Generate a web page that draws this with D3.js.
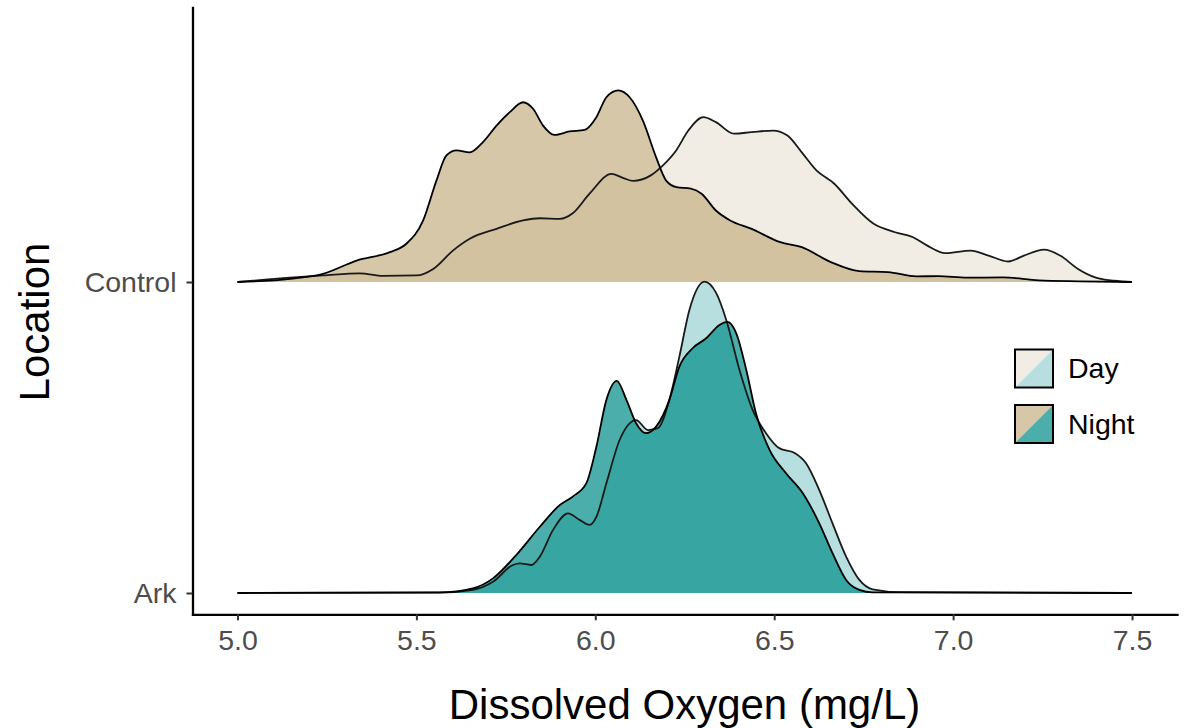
<!DOCTYPE html>
<html>
<head>
<meta charset="utf-8">
<script src="https://cdn.jsdelivr.net/npm/d3@7"></script>
<style>
  body { margin: 0; background: #fff; }
  svg { display: block; }
  text { font-family: "Liberation Sans", Arial, Helvetica, sans-serif; }
</style>
</head>
<body>
<svg id="chart" width="1191" height="728"></svg>
<script>
// Locations on the y axis (bottom to top) and sampling periods
const locations = ["Ark", "Control"];
const periods = ["Day", "Night"];
const xTicks = [5.0, 5.5, 6.0, 6.5, 7.0, 7.5];

// Ridge profiles: [dissolved oxygen (mg/L), scaled density] where a density
// of 1 equals the spacing between two locations
const controlDay = [
  [5.00, 0], [5.147, 0.014], [5.239, 0.021], [5.342, 0.028], [5.407, 0.020],
  [5.500, 0.021], [5.547, 0.042], [5.602, 0.101], [5.649, 0.139], [5.724, 0.171],
  [5.798, 0.198], [5.845, 0.205], [5.901, 0.203], [5.937, 0.221], [5.984, 0.284],
  [6.045, 0.348], [6.077, 0.335], [6.106, 0.325], [6.154, 0.342], [6.189, 0.375],
  [6.226, 0.423], [6.260, 0.487], [6.302, 0.530], [6.337, 0.514], [6.387, 0.477],
  [6.437, 0.482], [6.497, 0.487], [6.537, 0.471], [6.577, 0.417], [6.618, 0.359],
  [6.668, 0.316], [6.718, 0.251], [6.778, 0.187], [6.838, 0.160], [6.888, 0.144],
  [6.928, 0.117], [6.978, 0.093], [7.049, 0.101], [7.099, 0.085], [7.154, 0.066],
  [7.198, 0.085], [7.254, 0.104], [7.299, 0.085], [7.349, 0.042], [7.399, 0.014],
  [7.450, 0.004], [7.500, 0]
];
const controlNight = [
  [5.00, 0], [5.147, 0.010], [5.239, 0.026], [5.333, 0.069], [5.426, 0.096],
  [5.472, 0.123], [5.519, 0.198], [5.556, 0.326], [5.584, 0.407], [5.612, 0.423],
  [5.649, 0.417], [5.686, 0.450], [5.724, 0.503], [5.761, 0.546], [5.798, 0.578],
  [5.826, 0.557], [5.854, 0.503], [5.886, 0.473], [5.928, 0.484], [5.970, 0.489],
  [6.003, 0.530], [6.031, 0.594], [6.064, 0.616], [6.096, 0.594], [6.133, 0.519],
  [6.170, 0.401], [6.198, 0.326], [6.227, 0.305], [6.267, 0.300], [6.297, 0.284],
  [6.337, 0.230], [6.377, 0.198], [6.437, 0.171], [6.517, 0.128], [6.577, 0.112],
  [6.658, 0.064], [6.738, 0.035], [6.818, 0.032], [6.898, 0.018], [6.958, 0.019],
  [7.039, 0.014], [7.139, 0.015], [7.239, 0.005], [7.352, 0.002], [7.500, 0]
];
const arkDay = [
  [5.00, 0], [5.565, 0.001], [5.658, 0.010], [5.714, 0.036], [5.770, 0.090],
  [5.789, 0.095], [5.821, 0.090], [5.845, 0.117], [5.882, 0.203], [5.924, 0.256],
  [5.956, 0.235], [5.984, 0.219], [6.003, 0.245], [6.031, 0.353], [6.068, 0.492],
  [6.114, 0.556], [6.147, 0.524], [6.175, 0.530], [6.207, 0.621], [6.235, 0.760],
  [6.263, 0.910], [6.305, 1.001], [6.338, 0.964], [6.366, 0.878], [6.403, 0.717],
  [6.440, 0.588], [6.477, 0.514], [6.515, 0.465], [6.556, 0.451], [6.589, 0.417],
  [6.626, 0.331], [6.663, 0.224], [6.701, 0.117], [6.738, 0.042], [6.775, 0.012],
  [6.850, 0.003], [7.500, 0]
];
const arkNight = [
  [5.00, 0], [5.565, 0.002], [5.658, 0.015], [5.714, 0.047], [5.779, 0.122],
  [5.845, 0.213], [5.901, 0.283], [5.937, 0.310], [5.975, 0.353], [6.003, 0.470],
  [6.031, 0.621], [6.060, 0.682], [6.087, 0.621], [6.114, 0.546], [6.142, 0.514],
  [6.170, 0.535], [6.207, 0.621], [6.235, 0.728], [6.272, 0.787], [6.310, 0.819],
  [6.347, 0.862], [6.370, 0.872], [6.394, 0.835], [6.422, 0.717], [6.449, 0.578],
  [6.487, 0.460], [6.533, 0.385], [6.580, 0.321], [6.626, 0.224], [6.663, 0.128],
  [6.701, 0.042], [6.738, 0.010], [6.775, 0.002], [7.500, 0]
];

const ridges = [
  { location: "Control", period: "Day", values: controlDay },
  { location: "Control", period: "Night", values: controlNight },
  { location: "Ark", period: "Day", values: arkDay },
  { location: "Ark", period: "Night", values: arkNight }
];

// Fill colours per location and period (drawn semi-transparent)
const palette = {
  Control: { Day: "rgb(235,230,217)", Night: "rgb(196,175,131)" },
  Ark: { Day: "rgb(154,209,211)", Night: "rgb(0,139,136)" }
};
const fillAlpha = 0.7;

const svg = d3.select("#chart");
svg.append("rect").attr("width", 1191).attr("height", 728).attr("fill", "#fff");

// Scales: the x domain is padded so the axis line spans the full panel
const x = d3.scaleLinear().domain([4.8743, 7.6257]).range([192.5, 1177]);
const y = d3.scaleLinear().domain([0.9315, 2.8833]).range([614.3, 7.3]);
const rowIndex = loc => locations.indexOf(loc) + 1;

const areaFor = base => d3.area()
  .curve(d3.curveMonotoneX)
  .x(d => x(d[0]))
  .y0(y(base))
  .y1(d => y(base + d[1]));
const lineFor = base => d3.line()
  .curve(d3.curveMonotoneX)
  .x(d => x(d[0]))
  .y(d => y(base + d[1]));

// Ridge fills first, outlines on top
const gFill = svg.append("g");
const gLine = svg.append("g");
ridges.forEach(r => {
  const base = rowIndex(r.location);
  gFill.append("path")
    .attr("d", areaFor(base)(r.values))
    .attr("fill", palette[r.location][r.period])
    .attr("fill-opacity", fillAlpha)
    .attr("stroke", "none");
  gLine.append("path")
    .attr("d", lineFor(base)(r.values))
    .attr("fill", "none")
    .attr("stroke", r.period === "Day" ? "#1a1a1a" : "#000")
    .attr("stroke-width", 1.8)
    .attr("stroke-linejoin", "round");
});

// Axes
const tickColor = "#4d4d4d";
const xAxis = svg.append("g")
  .attr("transform", "translate(0,614.3)")
  .call(d3.axisBottom(x).tickValues(xTicks).tickFormat(d3.format(".1f"))
    .tickSize(6).tickSizeOuter(0).tickPadding(9));
const yAxis = svg.append("g")
  .attr("transform", "translate(192.5,0)")
  .call(d3.axisLeft(y).tickValues([1, 2]).tickFormat(d => locations[d - 1])
    .tickSize(6).tickSizeOuter(0).tickPadding(10));

[xAxis, yAxis].forEach(g => {
  g.select(".domain").attr("stroke", "#000").attr("stroke-width", 2.3)
    .attr("stroke-linecap", "square");
  g.selectAll(".tick line").attr("stroke", "#333").attr("stroke-width", 2);
  g.selectAll(".tick text").attr("fill", tickColor).attr("font-size", 28.5)
    .style("font-family", "'Liberation Sans', Arial, Helvetica, sans-serif");
});

// Axis titles
svg.append("text")
  .attr("x", 684.5).attr("y", 719)
  .attr("text-anchor", "middle")
  .attr("font-size", 42)
  .attr("fill", "#000")
  .text("Dissolved Oxygen (mg/L)");
svg.append("text")
  .attr("transform", "translate(49,322) rotate(-90)")
  .attr("text-anchor", "middle")
  .attr("font-size", 42)
  .attr("fill", "#000")
  .text("Location");

// Legend: each key is split diagonally between the two locations
const keySize = 38;
const legend = svg.append("g").attr("transform", "translate(1015,349.5)");
periods.forEach((p, i) => {
  const g = legend.append("g").attr("transform", `translate(0,${i * 55.5})`);
  g.append("path")
    .attr("d", `M0,0H${keySize}L0,${keySize}Z`)
    .attr("fill", palette.Control[p]).attr("fill-opacity", fillAlpha);
  g.append("path")
    .attr("d", `M${keySize},0V${keySize}H0Z`)
    .attr("fill", palette.Ark[p]).attr("fill-opacity", fillAlpha);
  g.append("rect")
    .attr("width", keySize).attr("height", keySize)
    .attr("fill", "none").attr("stroke", "#000").attr("stroke-width", 2);
  g.append("text")
    .attr("x", 53).attr("y", keySize / 2)
    .attr("dy", "0.35em")
    .attr("font-size", 28.5)
    .attr("fill", "#000")
    .text(p);
});
</script>
</body>
</html>
